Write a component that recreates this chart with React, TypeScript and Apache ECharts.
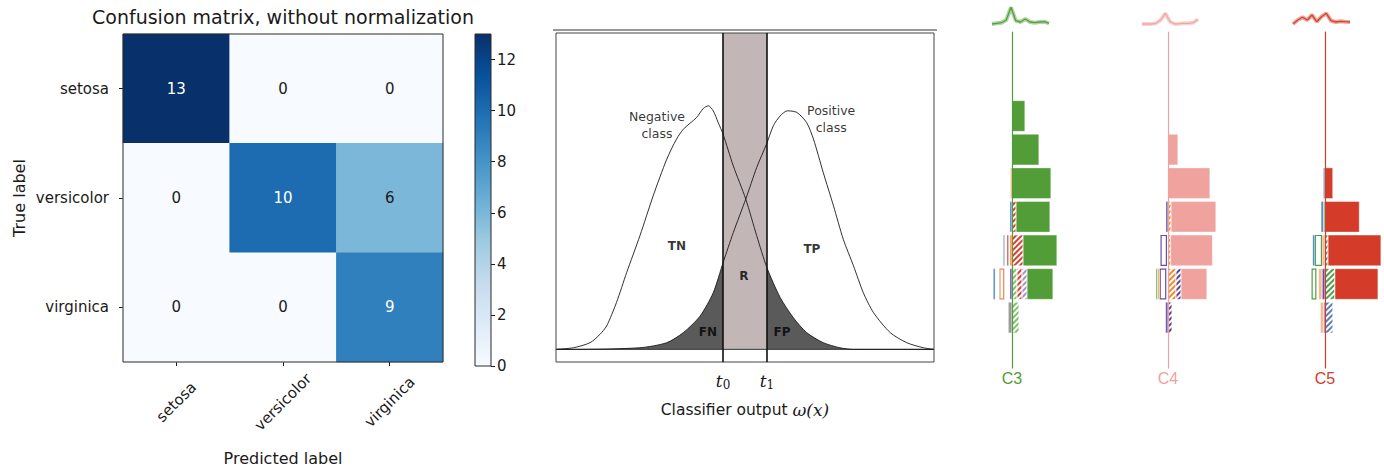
import React, { useEffect, useRef } from 'react';
import * as echarts from 'echarts';

// ---------------- Panel 1: confusion matrix ----------------
const classes = ['setosa', 'versicolor', 'virginica'];
const cmSetosa = [13, 0, 0];
const cmVersicolor = [0, 10, 6];
const cmVirginica = [0, 0, 9];
const cmMax = 13;
const cbTicks = [0, 2, 4, 6, 8, 10, 12];
const blues = ['#f7fbff', '#deebf7', '#c6dbef', '#9ecae1', '#6baed6', '#4292c6', '#2171b5', '#08519c', '#08306b'];

// ---------------- Panel 2: classifier output ----------------
const negX = [0, 0.46, 0.9, 1.16, 1.34, 1.6, 1.87, 2.22, 2.57, 2.93, 3.19, 3.37, 3.72, 3.9, 4.03, 4.16, 4.29, 4.42, 4.69, 5.02, 5.31, 5.58, 5.93, 6.28, 6.63, 7.07, 7.51, 7.87, 10];
const negY = [0, 0.005, 0.021, 0.047, 0.074, 0.148, 0.243, 0.359, 0.485, 0.601, 0.665, 0.696, 0.733, 0.762, 0.77, 0.754, 0.717, 0.68, 0.58, 0.475, 0.359, 0.258, 0.164, 0.1, 0.053, 0.021, 0.005, 0, 0];
const posX = [0, 0.46, 2.22, 2.93, 3.37, 3.81, 4.16, 4.42, 4.69, 5.02, 5.31, 5.58, 5.75, 5.93, 6.12, 6.37, 6.63, 6.81, 7.07, 7.34, 7.6, 7.87, 8.13, 8.4, 8.84, 9.28, 9.72, 10];
const posY = [0, 0, 0.005, 0.021, 0.053, 0.105, 0.179, 0.274, 0.369, 0.475, 0.575, 0.652, 0.707, 0.738, 0.754, 0.749, 0.717, 0.665, 0.559, 0.454, 0.348, 0.264, 0.179, 0.116, 0.053, 0.021, 0.005, 0];
const thresholds = [4.42, 5.58];
const thresholdSubs = ['0', '1'];
const classLabels = ['Negative\nclass', 'Positive\nclass'];
const classLabelX = [2.67, 7.28];
const classLabelY = [0.709, 0.728];
const regionLabels = ['TN', 'TP', 'R', 'FN', 'FP'];
const regionX = [3.2, 6.77, 4.97, 4.02, 5.98];
const regionY = [0.326, 0.316, 0.231, 0.054, 0.054];

// ---------------- Panel 3: stacked histograms ----------------
const bins = ['0', '1', '2', '3', '4', '5', '6', '7', '8', '9'];
const c3Spark = [1, 1.7, 2.3, 5, 17.7, 4.3, 3, 6, 3, 2.3, 3, 3.3, 1.7];
const c4Spark = [1, 1, 1, 1.7, 5, 11.7, 3.3, 1, 1.3, 1.7, 1.7, 2.3, 5.7];
const c5Spark = [1, 5, 7.7, 5, 10, 3.3, 8.3, 11.7, 4.3, 3, 3.7, 3.3, 3];

const c3HatchGreen = [0, 0, 0, 0, 0, 0, 0, 5, 7, 0];
const c3HatchRed = [0, 0, 0, 0, 0, 4, 11, 5, 0, 0];
const c3HatchLav = [0, 0, 0, 0, 0, 0, 0, 5, 0, 0];
const c3Main = [0, 0, 13, 27, 39, 34, 34, 26, 0, 0];
const c3NegPurple = [0, 0, 0, 0, 0, 0, 0, -2.2, 0, 0];
const c3NegOrange = [0, 0, 0, 0, -1.5, 0, -2.2, 0, 0, 0];
const c3NegGapA = [0, 0, 0, 0, 0, 0, -1, -5.5, 0, 0];
const c3NegRed = [0, 0, 0, 0, 0, 0, -2, 0, 0, 0];
const c3NegBox = [0, 0, 0, 0, 0, 0, 0, -5, 0, 0];
const c3NegGapB = [0, 0, 0, 0, 0, 0, -2, -4, 0, 0];
const c3NegBlue = [0, 0, 0, 0, 0, -2.2, -1.6, -2.2, 0, 0];
const c3NegGrey = [0, 0, 0, 0, 0, 0, 0, 0, -3.8, 0];

const c4HatchOrange = [0, 0, 0, 0, 0, 3, 2.5, 8, 0, 0];
const c4HatchPurple = [0, 0, 0, 0, 0, 0, 0, 5, 4, 0];
const c4Main = [0, 0, 0, 10, 42, 45, 42, 26, 0, 0];
const c4NegPurple = [0, 0, 0, 0, 0, -2.2, 0, 0, -2.5, 0];
const c4NegGap = [0, 0, 0, 0, 0, 0, -1, -1.7, 0, 0];
const c4NegBox = [0, 0, 0, 0, 0, 0, -6.5, -6.7, 0, 0];
const c4NegOrange = [0, 0, 0, 0, 0, 0, 0, -2.2, 0, 0];
const c4NegGreen = [0, 0, 0, 0, 0, 0, 0, -1.6, 0, 0];

const c5HatchGrey = [0, 0, 0, 0, 0, 0, 3, 0, 0, 0];
const c5HatchGreen = [0, 0, 0, 0, 0, 0, 0, 10, 0, 0];
const c5HatchBlue = [0, 0, 0, 0, 0, 0, 0, 0, 8, 0];
const c5Main = [0, 0, 0, 0, 8, 35, 54, 44, 0, 0];
const c5NegPurple = [0, 0, 0, 0, 0, 0, 0, -3, -1.5, 0];
const c5NegGreen = [0, 0, 0, 0, 0, -1.6, 0, 0, 0, 0];
const c5NegOrange = [0, 0, 0, 0, 0, 0, -3, -3.7, -3.3, 0];
const c5NegGap = [0, 0, 0, 0, 0, 0, 0, -2, 0, 0];
const c5NegBox = [0, 0, 0, 0, 0, 0, -7.3, -5, 0, 0];
const c5NegBlue = [0, 0, 0, 0, -1.8, -2.5, -2.3, 0, 0, 0];

const FONT = 'DejaVu Sans';
const INK = '#1a1a1a';

type Seg = { d: number[]; kind: 'solid' | 'hatch' | 'outline' | 'gap'; c: string };

const panels: { name: string; color: string; center: number; spark: number[]; sparkLeft: number; sparkWidth: number; segs: Seg[] }[] = [
  {
    name: 'C3', color: '#529d37', center: 1012, spark: c3Spark, sparkLeft: 992, sparkWidth: 57,
    segs: [
      { d: c3HatchGreen, kind: 'hatch', c: '#7cc46c' },
      { d: c3HatchRed, kind: 'hatch', c: '#de3b30' },
      { d: c3HatchLav, kind: 'hatch', c: '#a98fd0' },
      { d: c3Main, kind: 'solid', c: '#529d37' },
      { d: c3NegPurple, kind: 'solid', c: '#6a4aa5' },
      { d: c3NegOrange, kind: 'solid', c: '#ef8a3a' },
      { d: c3NegGapA, kind: 'gap', c: '#ffffff' },
      { d: c3NegRed, kind: 'solid', c: '#df4a3c' },
      { d: c3NegBox, kind: 'outline', c: '#e8875c' },
      { d: c3NegGapB, kind: 'gap', c: '#ffffff' },
      { d: c3NegBlue, kind: 'solid', c: '#4a86c0' },
      { d: c3NegGrey, kind: 'solid', c: '#9a9a9a' },
    ],
  },
  {
    name: 'C4', color: '#f0a29e', center: 1168, spark: c4Spark, sparkLeft: 1142, sparkWidth: 56,
    segs: [
      { d: c4HatchOrange, kind: 'hatch', c: '#ee8a2a' },
      { d: c4HatchPurple, kind: 'hatch', c: '#5b3fa0' },
      { d: c4Main, kind: 'solid', c: '#f0a29e' },
      { d: c4NegPurple, kind: 'solid', c: '#6b4da8' },
      { d: c4NegGap, kind: 'gap', c: '#ffffff' },
      { d: c4NegBox, kind: 'outline', c: '#6b4da8' },
      { d: c4NegOrange, kind: 'solid', c: '#f2b55a' },
      { d: c4NegGreen, kind: 'solid', c: '#5aa55a' },
    ],
  },
  {
    name: 'C5', color: '#d43c29', center: 1326, spark: c5Spark, sparkLeft: 1293, sparkWidth: 57,
    segs: [
      { d: c5HatchGrey, kind: 'hatch', c: '#8a7f78' },
      { d: c5HatchGreen, kind: 'hatch', c: '#4f9e48' },
      { d: c5HatchBlue, kind: 'hatch', c: '#5a7fb0' },
      { d: c5Main, kind: 'solid', c: '#d43c29' },
      { d: c5NegPurple, kind: 'solid', c: '#6b4da8' },
      { d: c5NegGreen, kind: 'solid', c: '#5aa55a' },
      { d: c5NegOrange, kind: 'solid', c: '#f5b98a' },
      { d: c5NegGap, kind: 'gap', c: '#ffffff' },
      { d: c5NegBox, kind: 'outline', c: '#4e9e45' },
      { d: c5NegBlue, kind: 'solid', c: '#3f7fbf' },
    ],
  },
];

function segStyle(s: Seg): any {
  if (s.kind === 'outline') return { color: '#ffffff', borderColor: s.c, borderWidth: 1.2 };
  if (s.kind === 'gap') return { color: '#ffffff', borderWidth: 0 };
  if (s.kind === 'hatch')
    return {
      color: '#ffffff',
      borderColor: '#ffffff',
      borderWidth: 0.4,
      decal: { symbol: 'rect', symbolSize: 1, dashArrayX: [1, 0], dashArrayY: [2, 2], rotation: -Math.PI / 4, color: s.c },
    };
  return { color: s.c, borderColor: '#ffffff', borderWidth: 0.4 };
}

function buildOption(): any {
  const cmRows = [cmSetosa, cmVersicolor, cmVirginica];
  const heatData: any[] = [];
  cmRows.forEach((row, r) =>
    row.forEach((v, c) => heatData.push({ value: [c, r, v], label: { color: v > cmMax / 2 ? '#ffffff' : INK } }))
  );

  const grid: any[] = [
    { left: 123, top: 34, width: 320, height: 332, show: true, borderColor: '#2a2a2a', borderWidth: 1, z: 5 },
    { left: 475, top: 34, width: 16, height: 332, show: true, borderColor: '#2a2a2a', borderWidth: 1, z: 5 },
    { left: 556, top: 33, width: 378, height: 329, show: true, borderColor: '#444444', borderWidth: 1, z: 5 },
  ];
  const xAxis: any[] = [
    {
      type: 'category', gridIndex: 0, data: classes,
      axisLine: { show: false },
      axisTick: { show: true, alignWithLabel: true, length: 4, lineStyle: { color: INK } },
      axisLabel: { rotate: 45, align: 'center', verticalAlign: 'middle', margin: 40, fontSize: 15, color: INK, fontFamily: FONT },
      splitLine: { show: false },
      name: 'Predicted label', nameLocation: 'middle', nameGap: 88,
      nameTextStyle: { fontSize: 16, color: INK, fontFamily: FONT },
    },
    { type: 'category', gridIndex: 1, data: ['cb'], show: false },
    {
      type: 'value', gridIndex: 2, min: 0, max: 10,
      axisLine: { show: false }, axisTick: { show: false }, axisLabel: { show: false }, splitLine: { show: false },
      name: '{a|Classifier output }{b|ω(x)}', nameLocation: 'middle', nameGap: 39,
      nameTextStyle: {
        rich: {
          a: { fontSize: 15.5, fontFamily: FONT, color: INK },
          b: { fontSize: 17, fontFamily: 'DejaVu Serif', fontStyle: 'italic', color: INK },
        },
      },
    },
  ];
  const yAxis: any[] = [
    {
      type: 'category', gridIndex: 0, data: classes, inverse: true,
      axisLine: { show: false },
      axisTick: { show: true, alignWithLabel: true, length: 4, lineStyle: { color: INK } },
      axisLabel: { margin: 14, fontSize: 15, color: INK, fontFamily: FONT },
      splitLine: { show: false },
      name: 'True label', nameLocation: 'middle', nameGap: 96, nameRotate: 90,
      nameTextStyle: { fontSize: 16, color: INK, fontFamily: FONT },
    },
    {
      type: 'value', gridIndex: 1, min: 0, max: cmMax, position: 'right',
      axisLine: { show: false },
      axisTick: { show: true, length: 4, customValues: cbTicks, lineStyle: { color: INK } },
      axisLabel: { customValues: cbTicks, margin: 6, fontSize: 15, color: INK, fontFamily: FONT },
      splitLine: { show: false },
    },
    { type: 'value', gridIndex: 2, min: -0.04, max: 1, show: false },
  ];

  const series: any[] = [
    {
      type: 'heatmap', xAxisIndex: 0, yAxisIndex: 0, data: heatData, silent: true,
      label: { show: true, fontSize: 15, fontFamily: FONT, formatter: (p: any) => String(p.value[2]) },
    },
    {
      type: 'bar', xAxisIndex: 1, yAxisIndex: 1, data: [cmMax], barWidth: '100%', silent: true,
      itemStyle: {
        color: new echarts.graphic.LinearGradient(0, 1, 0, 0, blues.map((c, i) => ({ offset: i / (blues.length - 1), color: c }))),
      },
    },
  ];

  // Panel 2 series
  const neg = negX.map((x, i) => [x, negY[i]]);
  const pos = posX.map((x, i) => [x, posY[i]]);
  const [t0, t1] = thresholds;
  const smooth = 0.25;
  series.push(
    {
      type: 'line', xAxisIndex: 2, yAxisIndex: 2, data: [[0, 0], [10, 0]], symbol: 'none', silent: true, z: 3,
      lineStyle: { color: '#333333', width: 1 },
      markArea: { silent: true, itemStyle: { color: '#c2b6b6' }, data: [[{ xAxis: t0, yAxis: 0 }, { xAxis: t1, yAxis: 1 }]] },
      markLine: {
        silent: true, symbol: ['none', 'none'],
        lineStyle: { color: '#111111', width: 1.6, type: 'solid' },
        label: {
          show: true, position: 'start', distance: 8,
          rich: {
            t: { fontFamily: 'DejaVu Serif', fontStyle: 'italic', fontSize: 17, color: INK },
            s: { fontFamily: 'DejaVu Serif', fontSize: 12, color: INK, padding: [9, 0, 0, 0] },
          },
        },
        data: thresholds.map((t, i) => ({ xAxis: t, label: { formatter: `{t|t}{s|${thresholdSubs[i]}}` } })),
      },
    },
    {
      type: 'line', xAxisIndex: 2, yAxisIndex: 2, data: pos.filter((p) => p[0] <= t0 + 1e-9), symbol: 'none', smooth,
      silent: true, lineStyle: { width: 0 }, areaStyle: { color: '#5a5a5a', opacity: 1 }, z: 2,
    },
    {
      type: 'line', xAxisIndex: 2, yAxisIndex: 2, data: neg.filter((p) => p[0] >= t1 - 1e-9), symbol: 'none', smooth,
      silent: true, lineStyle: { width: 0 }, areaStyle: { color: '#5a5a5a', opacity: 1 }, z: 2,
    },
    {
      type: 'line', xAxisIndex: 2, yAxisIndex: 2, data: neg, symbol: 'none', smooth, silent: true, z: 4,
      lineStyle: { color: '#1a1a1a', width: 0.9 },
    },
    {
      type: 'line', xAxisIndex: 2, yAxisIndex: 2, data: pos, symbol: 'none', smooth, silent: true, z: 4,
      lineStyle: { color: '#1a1a1a', width: 0.9 },
    },
    {
      type: 'scatter', xAxisIndex: 2, yAxisIndex: 2, symbolSize: 0, silent: true, z: 6,
      data: classLabels.map((n, i) => ({ name: n, value: [classLabelX[i], classLabelY[i]] })),
      label: { show: true, position: 'inside', formatter: '{b}', fontSize: 12.5, lineHeight: 17, color: '#000000', fontFamily: FONT },
    },
    {
      type: 'scatter', xAxisIndex: 2, yAxisIndex: 2, symbolSize: 0, silent: true, z: 6,
      data: regionLabels.map((n, i) => ({ name: n, value: [regionX[i], regionY[i]] })),
      label: { show: true, position: 'inside', formatter: '{b}', fontSize: 12, fontWeight: 'bold', color: '#000000', fontFamily: FONT },
    }
  );

  // Panel 3
  panels.forEach((p, k) => {
    const gi = 3 + k;
    grid.push({ left: p.center - 60, top: 32, width: 120, height: 336 });
    xAxis.push({
      type: 'value', gridIndex: gi, min: -60, max: 60,
      axisLine: { show: false }, axisTick: { show: false }, axisLabel: { show: false }, splitLine: { show: false },
      name: p.name, nameLocation: 'middle', nameGap: 2,
      nameTextStyle: { color: p.color, fontSize: 16, fontFamily: 'Liberation Sans' },
    });
    yAxis.push({
      type: 'category', gridIndex: gi, data: bins, inverse: true, z: 3,
      axisLine: { show: true, onZero: true, lineStyle: { color: p.color, width: 1.2 } },
      axisTick: { show: false }, axisLabel: { show: false }, splitLine: { show: false },
    });
    p.segs.forEach((s) => {
      series.push({
        type: 'bar', xAxisIndex: gi, yAxisIndex: gi, stack: p.name, barWidth: 31, silent: true,
        data: s.d.map((v) => (v === 0 ? '-' : v)), itemStyle: segStyle(s),
      });
    });
  });
  panels.forEach((p, k) => {
    const gi = 6 + k;
    grid.push({ left: p.sparkLeft, top: 5, width: p.sparkWidth, height: 20 });
    xAxis.push({ type: 'value', gridIndex: gi, min: 0, max: p.spark.length - 1, show: false });
    yAxis.push({ type: 'value', gridIndex: gi, min: 0, max: 20, show: false });
    const d = p.spark.map((v, i) => [i, v]);
    series.push(
      { type: 'line', xAxisIndex: gi, yAxisIndex: gi, data: d, symbol: 'none', silent: true, lineStyle: { color: p.color, width: 4, opacity: 0.45 } },
      { type: 'line', xAxisIndex: gi, yAxisIndex: gi, data: d, symbol: 'none', silent: true, lineStyle: { color: p.color, width: 1.3, opacity: 0.95 } }
    );
  });

  return {
    animation: false,
    backgroundColor: '#ffffff',
    title: {
      text: 'Confusion matrix, without normalization', left: 283, top: 7, textAlign: 'center', padding: 0,
      textStyle: { fontSize: 19, fontWeight: 'normal', color: INK, fontFamily: FONT },
    },
    visualMap: { type: 'continuous', show: false, min: 0, max: cmMax, dimension: 2, seriesIndex: 0, inRange: { color: blues } },
    graphic: [{ type: 'line', shape: { x1: 553, y1: 30, x2: 937, y2: 30 }, style: { stroke: '#333333', lineWidth: 1 }, silent: true }],
    grid, xAxis, yAxis, series,
  };
}

export default function App() {
  const ref = useRef<HTMLDivElement>(null);
  useEffect(() => {
    const chart = echarts.init(ref.current!, null, { renderer: 'svg' });
    chart.setOption(buildOption());
    return () => chart.dispose();
  }, []);
  return <div ref={ref} style={{ position: 'fixed', left: 0, top: 0, width: 1384, height: 471, background: '#ffffff' }} />;
}
